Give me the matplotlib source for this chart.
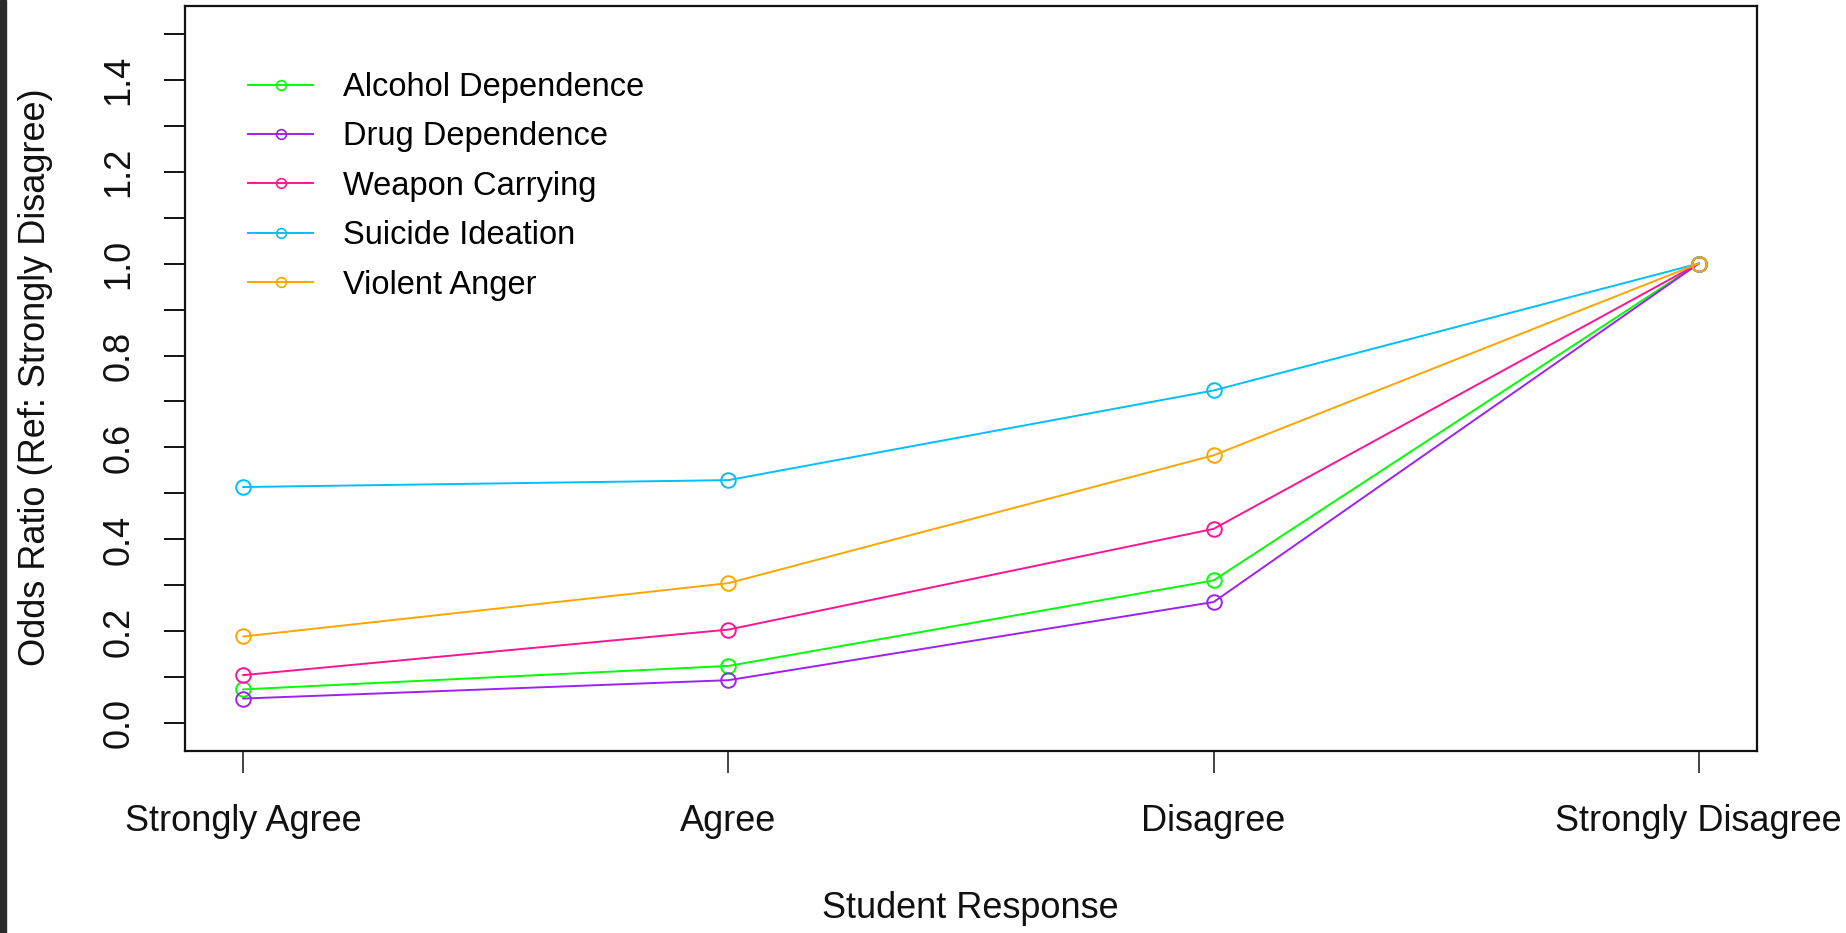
import matplotlib.pyplot as plt
from matplotlib.patches import Rectangle

plt.rcParams['font.family'] = ['Liberation Sans', 'DejaVu Sans']

responses = ['Strongly Agree', 'Agree', 'Disagree', 'Strongly Disagree']
outcomes = ['Alcohol Dependence', 'Drug Dependence', 'Weapon Carrying',
            'Suicide Ideation', 'Violent Anger']

alcohol = [0.074, 0.125, 0.311, 1.0]
drug = [0.054, 0.094, 0.264, 1.0]
weapon = [0.105, 0.204, 0.423, 1.0]
suicide = [0.514, 0.529, 0.724, 1.0]
anger = [0.189, 0.305, 0.583, 1.0]

colors = ['#00ff00', '#a020f0', '#ff1493', '#00bfff', '#ffa500']

y_ticks = [0.0, 0.1, 0.2, 0.3, 0.4, 0.5, 0.6, 0.7, 0.8, 0.9, 1.0,
           1.1, 1.2, 1.3, 1.4, 1.5]
y_labels = ['0.0', '', '0.2', '', '0.4', '', '0.6', '', '0.8', '',
            '1.0', '', '1.2', '', '1.4', '']

W, H = 1846, 933
fig = plt.figure(figsize=(W / 100, H / 100), dpi=100)
ax = fig.add_axes([185 / W, 1 - 751 / H, (1757 - 185) / W, (751 - 6) / H])

x = list(range(1, len(responses) + 1))
for vals, c in zip([alcohol, drug, weapon, suicide, anger], colors):
    ax.plot(x, vals, color=c, lw=1.4, marker='o', ms=10.5, mfc='none',
            mec=c, mew=1.4)

ax.set_xlim(0.88, 4.12)
ax.set_ylim(-0.06, 1.56)

ax.set_xticks(x)
ax.set_xticklabels(responses, fontsize=26, color='#111111')
ax.set_yticks(y_ticks)
ax.set_yticklabels(y_labels, fontsize=26, color='#111111', rotation=90,
                   va='center')
ax.tick_params(axis='x', length=16, width=1.1, pad=22, color='#111111')
ax.tick_params(axis='y', length=15, width=1.4, pad=20, color='#111111')

for s in ax.spines.values():
    s.set_linewidth(1.6)
    s.set_color('#111111')

fig.text(36 / W, 1 - 377 / H, 'Odds Ratio (Ref: Strongly Disagree)',
         rotation=90, ha='center', va='center', fontsize=26, color='#111111')
fig.text(970 / W, 1 - 909 / H, 'Student Response', ha='center',
         va='center', fontsize=26, color='#111111')

handles = [plt.Line2D([0], [0], color=c, lw=1.4, marker='o', ms=7,
                      mfc='none', mec=c, mew=1.2) for c in colors]
ax.legend(handles, outcomes, loc='upper left', frameon=False,
          fontsize=23.5, handlelength=2.0, handletextpad=0.9,
          labelspacing=0.565, borderpad=0, borderaxespad=0,
          bbox_to_anchor=(248 / W, 1 - 72 / H),
          bbox_transform=fig.transFigure)

fig.patches.append(Rectangle((0, 0), 6 / W, 1, transform=fig.transFigure,
                             color='#2b2b2b', zorder=10))

fig.savefig('out.png', dpi=100, facecolor='white')
